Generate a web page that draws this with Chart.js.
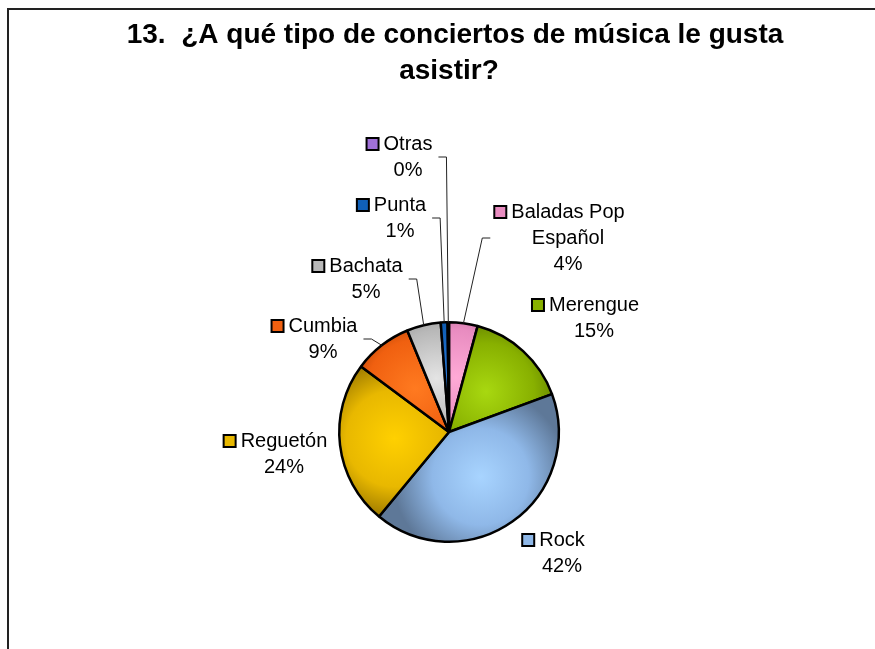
<!DOCTYPE html>
<html>
<head>
<meta charset="utf-8">
<script src="https://cdn.jsdelivr.net/npm/chart.js@4.4.1/dist/chart.umd.min.js"></script>
<style>
html, body { margin: 0; padding: 0; background: #fff; }
#wrap { position: relative; width: 875px; height: 649px; overflow: hidden; }
#marco { position: absolute; left: 7px; top: 8px; width: 1000px; height: 1000px; border: 2px solid #222; }
canvas { position: absolute; left: 0; top: 0; }
</style>
</head>
<body>
<div id="wrap"><div id="marco"></div><canvas id="torta" width="875" height="649"></canvas></div>
<script>
const titulo = ['13.  ¿A qué tipo de conciertos de música le gusta', 'asistir?']
const categorias = ['Baladas Pop Español', 'Merengue', 'Rock', 'Reguetón', 'Cumbia', 'Bachata', 'Punta', 'Otras']
const porcentajes = [4.2, 15.2, 41.6, 24.2, 8.6, 5.0, 1.0, 0.2]

const colores = ['#e88cc0', '#88b000', '#8fb8e8', '#e8b800', '#f06010', '#b8b8b8', '#1060b8', '#a070d8']
const claros = ['#ffaad6', '#a8d810', '#a8d4ff', '#ffd000', '#ff7a20', '#e4e4e4', '#2a7ad8', '#c8a0ff']
const oscuros = ['#9a5078', '#4e6800', '#5e7898', '#8a6a00', '#8a3000', '#7a7a7a', '#083a70', '#5a3a88']

// posicion de cada etiqueta (centro del texto, primera linea) respecto al centro de la torta
const posEtiquetas = [[119, -220], [145, -127], [113, 108], [-165, 9], [-126, -106], [-83, -166], [-49, -227], [-41, -288]]
const conLinea = [true, false, false, false, true, true, true, true]

const fuente = '"Liberation Sans", Arial, sans-serif'

function partir(ctx, texto, ancho) {
    const palabras = texto.split(' ')
    const lineas = []
    let actual = ''
    palabras.forEach(p => {
        const prueba = actual ? actual + ' ' + p : p
        if (actual && ctx.measureText(prueba).width > ancho) {
            lineas.push(actual)
            actual = p
        } else {
            actual = prueba
        }
    })
    lineas.push(actual)
    return lineas
}

const tituloPlugin = {
    id: 'tituloPlugin',
    afterDraw(chart) {
        const ctx = chart.ctx
        const a = chart.chartArea
        const cx = (a.left + a.right) / 2
        ctx.save()
        ctx.font = 'bold 28px ' + fuente
        ctx.fillStyle = '#000'
        ctx.textAlign = 'center'
        ctx.textBaseline = 'middle'
        ctx.fillText(titulo[0], cx + 6, 35)
        ctx.fillText(titulo[1], cx, 71)
        ctx.restore()
    }
}

const sombreado = {
    id: 'sombreado',
    beforeDatasetsDraw(chart) {
        const ctx = chart.ctx
        chart.getDatasetMeta(0).data.forEach((arc, i) => {
            const mid = (arc.startAngle + arc.endAngle) / 2
            const r = arc.outerRadius
            const gx = arc.x + Math.cos(mid) * r * 0.5
            const gy = arc.y + Math.sin(mid) * r * 0.5
            const g = ctx.createRadialGradient(gx, gy, 0, gx, gy, r * 0.8)
            g.addColorStop(0, claros[i])
            g.addColorStop(0.55, colores[i])
            g.addColorStop(1, oscuros[i])
            arc.options.backgroundColor = g
        })
    }
}

const etiquetas = {
    id: 'etiquetas',
    afterDatasetsDraw(chart) {
        const ctx = chart.ctx
        const meta = chart.getDatasetMeta(0)
        const total = porcentajes.reduce((a, b) => a + b, 0)
        const alto = 26
        ctx.save()
        ctx.font = '20px ' + fuente
        ctx.textAlign = 'center'
        ctx.textBaseline = 'middle'
        meta.data.forEach((arc, i) => {
            const lineas = partir(ctx, categorias[i], 130).concat([Math.round(porcentajes[i] / total * 100) + '%'])
            const cx = arc.x + posEtiquetas[i][0]
            const y0 = arc.y + posEtiquetas[i][1]
            let anchoMax = 0
            ctx.fillStyle = '#000'
            lineas.forEach((t, k) => {
                ctx.fillText(t, cx, y0 + k * alto)
                anchoMax = Math.max(anchoMax, ctx.measureText(t).width)
            })
            const w0 = ctx.measureText(lineas[0]).width
            const kx = cx - w0 / 2 - 17
            ctx.fillStyle = colores[i]
            ctx.fillRect(kx, y0 - 6, 12, 12)
            ctx.strokeStyle = '#000'
            ctx.lineWidth = 2
            ctx.strokeRect(kx, y0 - 6, 12, 12)
            if (conLinea[i]) {
                const mid = (arc.startAngle + arc.endAngle) / 2
                const px = arc.x + Math.cos(mid) * arc.outerRadius
                const py = arc.y + Math.sin(mid) * arc.outerRadius
                const izq = cx < arc.x
                const ym = y0 + (lineas.length - 1) * alto / 2
                const x1 = izq ? cx + anchoMax / 2 + 6 : kx - 4
                const x2 = izq ? x1 + 8 : x1 - 8
                ctx.strokeStyle = '#222'
                ctx.lineWidth = 1
                ctx.beginPath()
                ctx.moveTo(x1, ym)
                ctx.lineTo(x2, ym)
                ctx.lineTo(px, py)
                ctx.stroke()
            }
        })
        ctx.restore()
    }
}

new Chart(document.getElementById('torta'), {
    type: 'pie',
    data: {
        labels: categorias,
        datasets: [{
            data: porcentajes,
            backgroundColor: colores,
            borderColor: '#000',
            borderWidth: 2.5
        }]
    },
    options: {
        responsive: false,
        animation: false,
        devicePixelRatio: 1,
        layout: { padding: { left: 338, right: 315, top: 321, bottom: 106 } },
        plugins: {
            legend: { display: false },
            tooltip: { enabled: false },
            title: { display: false }
        }
    },
    plugins: [sombreado, etiquetas, tituloPlugin]
})
</script>
</body>
</html>
